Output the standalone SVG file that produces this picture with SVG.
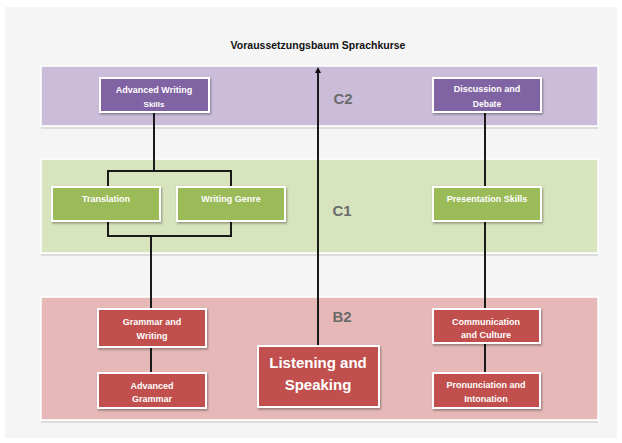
<svg xmlns="http://www.w3.org/2000/svg" width="622" height="443" viewBox="0 0 622 443">
<defs>
<marker id="ah" viewBox="0 0 6 6" refX="3" refY="3" markerWidth="3" markerHeight="3" orient="auto-start-reverse">
<path d="M0,0 L6,3 L0,6 Z" fill="#111"/>
</marker>
<filter id="sh" x="-10%" y="-10%" width="130%" height="140%">
<feDropShadow dx="1" dy="1.5" stdDeviation="1" flood-color="#000" flood-opacity="0.35"/>
</filter>
</defs>
<style>
.band{stroke:#ffffff;stroke-width:1.5}
.edge{stroke:#dcdcdc;stroke-width:2}
.box{stroke:#ffffff;stroke-width:2;filter:url(#sh)}
.p{fill:#8064a2}
.g{fill:#9bbb59}
.r{fill:#c0504d}
.t{font-family:"Liberation Sans",Arial,sans-serif;font-weight:bold;fill:#ffffff;text-anchor:middle;font-size:9px}
.lvl{font-family:"Liberation Sans",Arial,sans-serif;font-weight:bold;fill:#6b6b6b;text-anchor:middle;font-size:15px}
.con{fill:none;stroke:#1a1a1a;stroke-width:2}
</style>
<rect x="0" y="0" width="622" height="443" fill="#ffffff"/>
<rect x="5" y="7" width="612" height="431" fill="#f5f5f5"/>
<text x="318" y="49" font-family="'Liberation Sans',Arial,sans-serif" font-weight="bold" font-size="10.5" fill="#111" text-anchor="middle">Voraussetzungsbaum Sprachkurse</text>

<g id="band-c2">
<rect class="band" x="41" y="66" width="557" height="60" fill="#cbbdda"/>
<line class="edge" x1="41" y1="128" x2="598" y2="128"/>
<text class="lvl" x="343" y="104">C2</text>
</g>
<g id="band-c1">
<rect class="band" x="41" y="159" width="557" height="94" fill="#d8e4bd"/>
<line class="edge" x1="41" y1="255" x2="598" y2="255"/>
<text class="lvl" x="342" y="216">C1</text>
</g>
<g id="band-b2">
<rect class="band" x="41" y="297" width="557" height="123" fill="#e6b9b8"/>
<line class="edge" x1="41" y1="422" x2="598" y2="422"/>
<text class="lvl" x="342" y="322">B2</text>
</g>

<g id="connectors">
<line class="con" x1="154" y1="112" x2="154" y2="171"/>
<path class="con" d="M108,187 V171 H231 V187"/>
<path class="con" d="M108,221 V236 H231 V221"/>
<line class="con" x1="151" y1="236" x2="151" y2="309"/>
<line class="con" x1="151" y1="347" x2="151" y2="373"/>
<line class="con" x1="485" y1="112" x2="485" y2="187"/>
<line class="con" x1="485" y1="221" x2="485" y2="309"/>
<line class="con" x1="485" y1="343" x2="485" y2="373"/>
<line class="con" x1="318" y1="346" x2="318" y2="70" marker-end="url(#ah)"/>
</g>

<g id="advanced-writing-skills">
<rect class="box p" x="100" y="78" width="109" height="34"/>
<text class="t" x="154" y="93">Advanced Writing</text>
<text class="t" x="154" y="107" style="font-size:8px">Skills</text>
</g>
<g id="discussion-and-debate">
<rect class="box p" x="433" y="78" width="108" height="34"/>
<text class="t" x="487" y="92">Discussion and</text>
<text class="t" x="487" y="107" style="font-size:8.5px">Debate</text>
</g>
<g id="translation">
<rect class="box g" x="52" y="187" width="108" height="34"/>
<text class="t" x="106" y="202">Translation</text>
</g>
<g id="writing-genre">
<rect class="box g" x="177" y="187" width="108" height="34"/>
<text class="t" x="231" y="202">Writing Genre</text>
</g>
<g id="presentation-skills">
<rect class="box g" x="433" y="187" width="108" height="34"/>
<text class="t" x="487" y="202">Presentation Skills</text>
</g>
<g id="grammar-and-writing">
<rect class="box r" x="98" y="309" width="108" height="38"/>
<text class="t" x="152" y="325">Grammar and</text>
<text class="t" x="152" y="339">Writing</text>
</g>
<g id="advanced-grammar">
<rect class="box r" x="98" y="373" width="108" height="35"/>
<text class="t" x="152" y="389">Advanced</text>
<text class="t" x="152" y="402">Grammar</text>
</g>
<g id="listening-and-speaking">
<rect class="box r" x="258" y="346" width="121" height="61"/>
<text class="t" x="318" y="368" style="font-size:15px">Listening and</text>
<text class="t" x="318" y="390" style="font-size:15px">Speaking</text>
</g>
<g id="communication-and-culture">
<rect class="box r" x="433" y="309" width="107" height="34"/>
<text class="t" x="486" y="325">Communication</text>
<text class="t" x="486" y="338">and Culture</text>
</g>
<g id="pronunciation-and-intonation">
<rect class="box r" x="433" y="373" width="107" height="35"/>
<text class="t" x="486" y="388">Pronunciation and</text>
<text class="t" x="486" y="402">Intonation</text>
</g>
</svg>
